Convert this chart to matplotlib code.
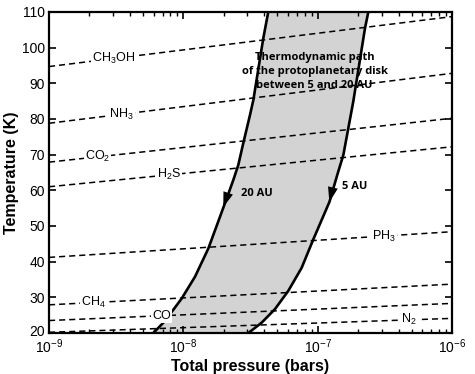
import numpy as np
import matplotlib
matplotlib.use('Agg')
import matplotlib.pyplot as plt
from matplotlib.transforms import ScaledTranslation

plt.rcParams['font.family'] = 'Liberation Sans'
plt.rcParams['mathtext.fontset'] = 'custom'
plt.rcParams['mathtext.rm'] = 'Liberation Sans'
plt.rcParams['mathtext.it'] = 'Liberation Sans'
plt.rcParams['mathtext.default'] = 'regular'

# condensation curves (T at P=1e-9 and P=1e-6 bars)
species = ['CH$_3$OH', 'NH$_3$', 'CO$_2$', 'H$_2$S', 'PH$_3$', 'CH$_4$', 'CO', 'N$_2$']
t_left = [94.7, 78.8, 67.9, 61.0, 41.2, 27.9, 23.5, 20.2]
t_right = [108.7, 92.8, 80.2, 72.2, 48.4, 33.7, 28.3, 24.1]
label_logp = [-8.52, -8.46, -8.64, -8.11, -6.51, -8.67, -8.16, -6.32]

# disk thermodynamic paths (log10 P, T)
logp_20au = [-7.368, -7.405, -7.479, -7.504, -7.554, -7.591, -7.628, -7.668,
             -7.727, -7.814, -7.913, -8.012, -8.075, -8.151, -8.224]
t_20au = [110.0, 102.6, 85.3, 81.1, 73.2, 67.1, 62.9, 58.7,
          52.6, 43.7, 35.8, 29.7, 26.5, 22.8, 20.0]
logp_5au = [-6.623, -6.648, -6.735, -6.772, -6.809, -6.852, -6.913,
            -7.032, -7.119, -7.219, -7.318, -7.417, -7.516]
t_5au = [110.0, 105.4, 84.9, 77.4, 69.9, 64.6, 56.7,
         46.3, 38.3, 31.8, 26.7, 22.9, 20.0]

fig = plt.figure(figsize=(4.75, 3.74), dpi=100)
ax = fig.add_axes([0.1032, 0.1096, 0.8484, 0.8584])

p20 = 10 ** np.array(logp_20au)
p5 = 10 ** np.array(logp_5au)

# shaded band
ax.fill(np.concatenate([p20, p5[::-1]]), np.concatenate([t_20au, t_5au[::-1]]),
        color='#d3d3d3', lw=0, zorder=1)

# condensation lines
for name, tl, tr, lp in zip(species, t_left, t_right, label_logp):
    ax.plot([1e-9, 1e-6], [tl, tr], color='black', lw=1.1,
            linestyle=(0, (4, 2.6)), zorder=2)
    tl_at = tl + (tr - tl) * (lp + 9) / 3.0
    ax.text(10 ** lp, tl_at, name, fontsize=9, ha='center', va='center',
            zorder=4, bbox=dict(facecolor='white', edgecolor='none', pad=0.8))

ax.plot(p20, t_20au, color='black', lw=1.9, zorder=3, solid_joinstyle='round')
ax.plot(p5, t_5au, color='black', lw=1.9, zorder=3, solid_joinstyle='round')

# direction arrows
arrow = dict(arrowstyle='-|>,head_length=0.6,head_width=0.2', color='black',
             lw=0, mutation_scale=18, shrinkA=0, shrinkB=0)
ax.annotate('', xy=(10 ** -7.703, 55.3), xytext=(10 ** -7.664, 59.5),
            arrowprops=arrow, zorder=5)
ax.annotate('', xy=(10 ** -6.913, 56.7), xytext=(10 ** -6.886, 60.9),
            arrowprops=arrow, zorder=5)

bold = dict(family='Open Sans', fontweight='bold', fontsize=8, zorder=5)
ax.text(10 ** -7.454, 59.2, '20 AU', ha='center', va='center', **bold)
ax.text(10 ** -6.722, 61.2, '5 AU', ha='center', va='center', **bold)
ax.text(10 ** -7.022, 93.3, 'Thermodynamic path\nof the protoplanetary disk\nbetween 5 and 20 AU',
        ha='center', va='center', linespacing=1.35, **bold)

ax.set_xscale('log')
ax.set_xlim(1e-9, 1e-6)
ax.set_ylim(20, 110)
ax.set_yticks(np.arange(20, 111, 10))
ax.set_xticks([1e-9, 1e-8, 1e-7, 1e-6])
ax.set_xticklabels(['10$^{-9}$', '10$^{-8}$', '10$^{-7}$', '10$^{-6}$'])

ax.tick_params(which='both', direction='in', top=True, right=True,
               labelsize=10, pad=3)
ax.tick_params(which='major', length=5, width=1.2)
ax.tick_params(which='minor', length=3, width=1)
for s in ax.spines.values():
    s.set_linewidth(1.6)

# lift the bottom y label a little so it clears 10^-9
lab = ax.get_yticklabels()[0]
lab.set_transform(lab.get_transform() + ScaledTranslation(0, 2 / 72, fig.dpi_scale_trans))

ax.set_xlabel('Total pressure (bars)', fontsize=11.5, fontweight='bold', labelpad=2)
ax.set_ylabel('Temperature (K)', fontsize=11.5, fontweight='bold', labelpad=2)

fig.savefig('out.png', dpi=100)
